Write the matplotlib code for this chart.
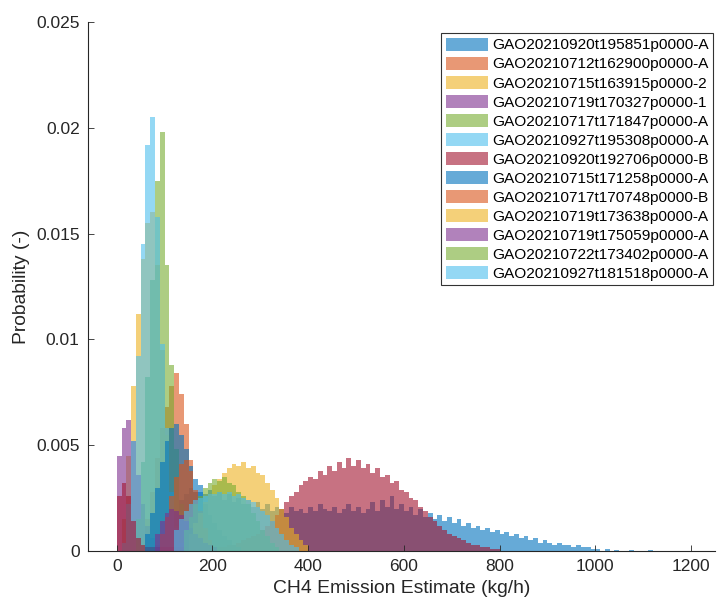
import numpy as np
import matplotlib
matplotlib.use('Agg')
import matplotlib.pyplot as plt

plt.rcParams['font.family'] = ['Liberation Sans', 'DejaVu Sans']

# bin width (kg/h) used for all histograms
bw = 10

names = ['GAO20210920t195851p0000-A', 'GAO20210712t162900p0000-A',
         'GAO20210715t163915p0000-2', 'GAO20210719t170327p0000-1',
         'GAO20210717t171847p0000-A', 'GAO20210927t195308p0000-A',
         'GAO20210920t192706p0000-B', 'GAO20210715t171258p0000-A',
         'GAO20210717t170748p0000-B', 'GAO20210719t173638p0000-A',
         'GAO20210719t175059p0000-A', 'GAO20210722t173402p0000-A',
         'GAO20210927t181518p0000-A']

# first bin edge of every series (kg/h)
starts = [100, 60, 10, 0, 40, 10, 0, 60, 90, 150, 80, 140, 120]

p1 = [.0008, .0014, .0019, .0024, .0027, .0030, .0028, .0031, .0027, .0029,
      .0026, .0028, .0024, .0027, .0023, .0025, .0022, .0024, .0021, .0023,
      .0020, .0022, .0019, .0021, .0020, .0018, .0021, .0019, .0020, .0018,
      .0021, .0019, .0022, .0020, .0019, .0021, .0018, .0020, .0022, .0019,
      .0021, .0018, .0020, .0023, .0019, .0024, .0021, .0026, .0020, .0022,
      .0019, .0021, .0017, .0020, .0016, .0018, .0015, .0017, .0014, .0016,
      .0013, .0015, .0012, .0013, .0011, .0012, .0010, .0011, .0009, .0010,
      .0008, .0009, .0007, .0008, .0006, .0007, .0005, .0006, .0004, .0005,
      .0004, .0003, .0004, .0003, .0003, .0002, .0003, .0002, .0002, .0001,
      .0001, 0, .0001, 0, .00005, 0, 0, .00005, 0, 0, 0, .00005]
p2 = [.0015, .0028, .0044, .0058, .0068, .0078, .0084, .0074, .0060, .0043,
      .0028, .0017, .0010, .0005, .0002]
p3 = [.0015, .0045, .0078, .0112, .0138, .0155, .0160, .0135, .0095, .0055,
      .0028, .0012, .0004]
p4 = [.0045, .0058, .0062, .0052, .0036, .0022, .0012, .0006, .0003]
p5 = [.0015, .0042, .0082, .0128, .0175, .0198, .0135, .0088, .0048, .0022,
      .0010, .0004, .0002]
p6 = [.0004, .0022, .0052, .0092, .0145, .0192, .0205, .0158, .0098, .0058,
      .0028, .0011, .0004]
p7 = [.0026, .0032, .0026, .0014, .0006, .0003, .0002, .0002, .0002, .0002,
      .0002, .0002, .0002, .0002, .0002, .0002, .0002, .0002, .0002, .0002,
      .0002, .0002, .0002, .0003, .0003, .0004, .0005, .0006, .0007, .0008,
      .0010, .0012, .0014, .0017, .0020, .0023, .0026, .0028, .0031, .0033,
      .0035, .0034, .0038, .0036, .0040, .0038, .0042, .0039, .0044, .0040,
      .0043, .0039, .0041, .0037, .0039, .0035, .0036, .0032, .0033, .0029,
      .0028, .0025, .0024, .0021, .0019, .0016, .0014, .0012, .0010, .0008,
      .0007, .0006, .0005, .0004, .0003, .0003, .0002, .0002, .0001, .0001]
p8 = [.0008, .0018, .0030, .0042, .0052, .0058, .0060, .0055, .0048, .0040,
      .0034, .0028, .0022, .0017, .0013, .0010, .0007, .0005, .0003, .0002]
p9 = [.0008, .0016, .0026, .0035, .0041, .0043, .0038, .0029, .0019, .0011,
      .0005]
p10 = [.0008, .0013, .0018, .0023, .0027, .0031, .0034, .0037, .0039, .0041,
       .0040, .0042, .0039, .0040, .0037, .0036, .0032, .0029, .0025, .0020,
       .0016, .0011, .0008, .0005, .0003]
p11 = [.0008, .0014, .0018, .0020, .0019, .0017, .0014, .0011, .0008, .0006,
       .0004, .0003, .0002]
p12 = [.0010, .0016, .0022, .0026, .0030, .0032, .0034, .0033, .0035, .0032,
       .0031, .0028, .0026, .0022, .0018, .0014, .0010, .0007, .0004, .0002]
p13 = [.0010, .0015, .0019, .0022, .0024, .0025, .0026, .0027, .0027, .0028,
       .0027, .0028, .0026, .0027, .0025, .0024, .0023, .0021, .0019, .0017,
       .0014, .0011, .0008, .0005, .0003, .0002]

probs = [p1, p2, p3, p4, p5, p6, p7, p8, p9, p10, p11, p12, p13]

colors = [(0, 0.447, 0.741), (0.850, 0.325, 0.098), (0.929, 0.694, 0.125),
          (0.494, 0.184, 0.556), (0.466, 0.674, 0.188), (0.301, 0.745, 0.933),
          (0.635, 0.078, 0.184)]

fig = plt.figure(figsize=(7.17, 6.05), dpi=100)
ax = fig.add_axes([88/717, 54/605, 627/717, 529/605])

for i, (nm, s, p) in enumerate(zip(names, starts, probs)):
    edges = s + bw*np.arange(len(p))
    ax.bar(edges, p, width=bw, align='edge', color=colors[i % 7],
           alpha=0.6, linewidth=0, label=nm)

gray = (0.15, 0.15, 0.15)
ax.set_xlim(-60, 1250)
ax.set_ylim(0, 0.025)
ax.set_xticks([0, 200, 400, 600, 800, 1000, 1200])
ax.set_yticks([0, 0.005, 0.01, 0.015, 0.02, 0.025])
ax.set_yticklabels(['0', '0.005', '0.01', '0.015', '0.02', '0.025'])
ax.tick_params(direction='in', length=4, width=0.6, colors=gray,
               labelsize=12.5, pad=6)
for side in ['top', 'right']:
    ax.spines[side].set_visible(False)
for side in ['left', 'bottom']:
    ax.spines[side].set_color(gray)
    ax.spines[side].set_linewidth(0.8)

ax.set_xlabel('CH4 Emission Estimate (kg/h)', fontsize=13.9, color=gray)
ax.set_ylabel('Probability (-)', fontsize=13.9, color=gray)

leg = ax.legend(loc='upper right', bbox_to_anchor=(0.997, 0.979),
                fontsize=11.1, frameon=True, fancybox=False,
                handlelength=2.75, handleheight=0.9, labelspacing=0.28,
                handletextpad=0.25, borderpad=0.3, borderaxespad=0)
leg.get_frame().set_edgecolor('black')
leg.get_frame().set_linewidth(0.8)

fig.savefig('out.png', dpi=100)
